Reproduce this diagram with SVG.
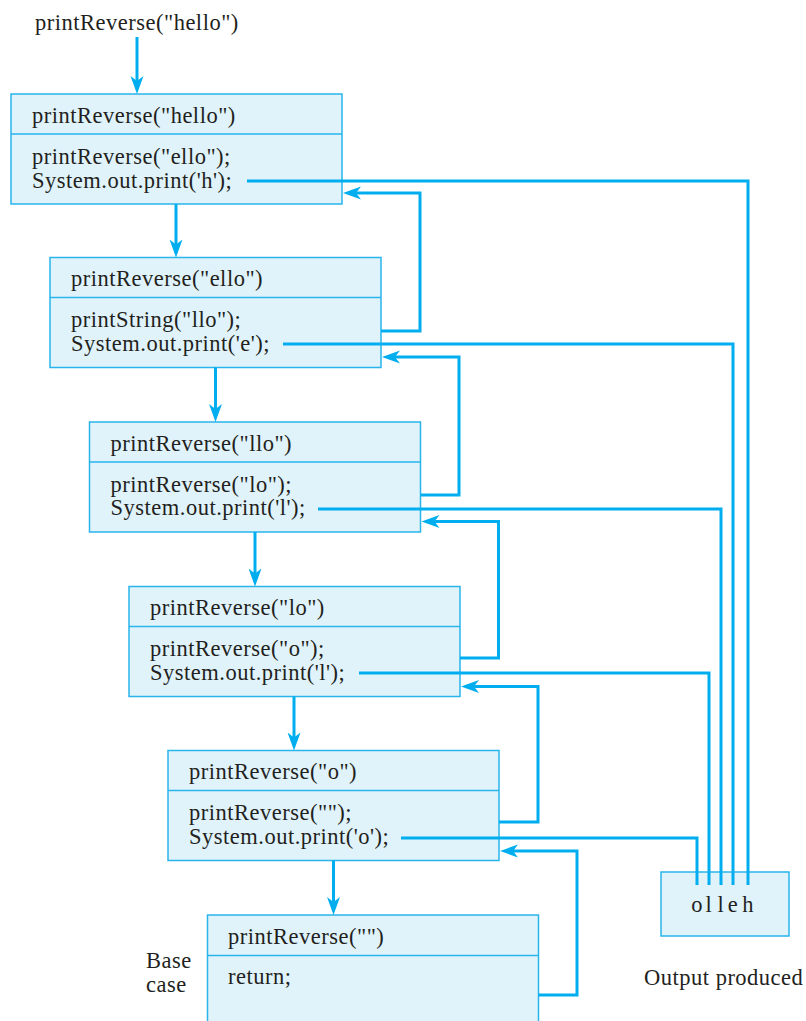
<svg xmlns="http://www.w3.org/2000/svg" width="806" height="1021" viewBox="0 0 806 1021">
<style>
text { font-family: "Liberation Serif", "Times New Roman", serif; font-size: 22.5px; fill: #231f20; letter-spacing: 0.5px; }
.box { fill: #e0f3fb; stroke: #29b5ec; stroke-width: 1.5; }
.div { stroke: #29b5ec; stroke-width: 1.5; fill: none; }
.ln { stroke: #00aeef; stroke-width: 3; fill: none; }
.ar { stroke: #00aeef; stroke-width: 3; fill: none; marker-end: url(#ah); }
</style>
<defs>
<marker id="ah" markerUnits="userSpaceOnUse" orient="auto" viewBox="-10 -7 19 14" markerWidth="19" markerHeight="14" refX="0" refY="0">
<path d="M8,0 L-10,-6.5 L-5,0 L-10,6.5 Z" fill="#00aeef"/>
</marker>
</defs>
<rect width="806" height="1021" fill="#ffffff"/>
<text id="start" x="35" y="30">printReverse("hello")</text>

<g id="node1">
<rect class="box" x="11" y="94" width="331" height="110"/>
<line class="div" x1="11" y1="134" x2="342" y2="134"/>
<text x="32" y="123">printReverse("hello")</text>
<text x="32" y="164">printReverse("ello");</text>
<text x="32" y="187.5">System.out.print('h');</text>
</g>
<g id="node2">
<rect class="box" x="50" y="257.5" width="331" height="110"/>
<line class="div" x1="50" y1="297.5" x2="381" y2="297.5"/>
<text x="71" y="286">printReverse("ello")</text>
<text x="71" y="327">printString("llo");</text>
<text x="71" y="350.5">System.out.print('e');</text>
</g>
<g id="node3">
<rect class="box" x="89.5" y="422" width="331" height="110"/>
<line class="div" x1="89.5" y1="462" x2="420.5" y2="462"/>
<text x="110.5" y="450.5">printReverse("llo")</text>
<text x="110.5" y="491.5">printReverse("lo");</text>
<text x="110.5" y="515">System.out.print('l');</text>
</g>
<g id="node4">
<rect class="box" x="129" y="586.5" width="331" height="110"/>
<line class="div" x1="129" y1="626.5" x2="460" y2="626.5"/>
<text x="150" y="615">printReverse("lo")</text>
<text x="150" y="656">printReverse("o");</text>
<text x="150" y="679.5">System.out.print('l');</text>
</g>
<g id="node5">
<rect class="box" x="168" y="750.5" width="331" height="110"/>
<line class="div" x1="168" y1="790.5" x2="499" y2="790.5"/>
<text x="189" y="779">printReverse("o")</text>
<text x="189" y="820">printReverse("");</text>
<text x="189" y="843.5">System.out.print('o');</text>
</g>
<g id="node6">
<rect class="box" x="207.5" y="915" width="331" height="130"/>
<line class="div" x1="207.5" y1="955.5" x2="538.5" y2="955.5"/>
<text x="228" y="944">printReverse("")</text>
<text x="228" y="983.5">return;</text>
</g>
<g id="basecase">
<text x="146" y="968">Base</text>
<text x="146" y="992">case</text>
</g>
<g id="output">
<rect class="box" x="661" y="872" width="128" height="64"/>
<text x="697 709 721 733 748" y="912" text-anchor="middle" letter-spacing="0">olleh</text>
<text x="644" y="985">Output produced</text>
</g>

<g id="connectors">
<line class="ar" x1="137" y1="37" x2="137" y2="86"/>
<line class="ar" x1="176" y1="204" x2="176" y2="249.5"/>
<line class="ar" x1="215.5" y1="367.5" x2="215.5" y2="414"/>
<line class="ar" x1="255" y1="532" x2="255" y2="578.5"/>
<line class="ar" x1="294" y1="696.5" x2="294" y2="742.5"/>
<line class="ar" x1="333.5" y1="860.5" x2="333.5" y2="907"/>
<polyline class="ar" points="381,331 420,331 420,193 351,193"/>
<polyline class="ar" points="420.5,495 459,495 459,357 390,357"/>
<polyline class="ar" points="460,658 498.5,658 498.5,521.5 429.5,521.5"/>
<polyline class="ar" points="499,822 538,822 538,686.5 469,686.5"/>
<polyline class="ar" points="538.5,995 577,995 577,851 508,851"/>
<polyline class="ln" points="247,181 748,181 748,885"/>
<polyline class="ln" points="283,344 733,344 733,885"/>
<polyline class="ln" points="318,509 721,509 721,885"/>
<polyline class="ln" points="359,673 709,673 709,885"/>
<polyline class="ln" points="401,838 697,838 697,885"/>
</g>
</svg>
